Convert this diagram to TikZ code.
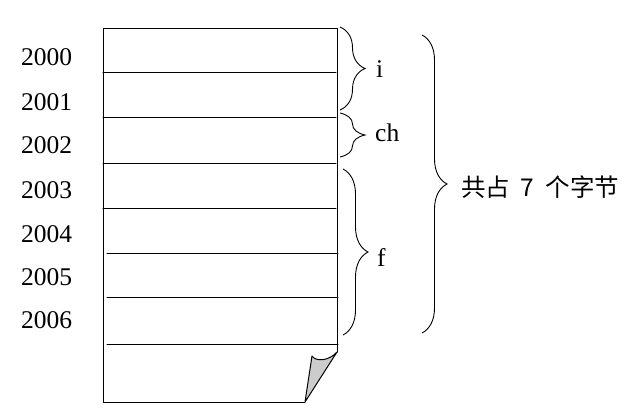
\documentclass[tikz,border=0pt]{standalone}
\usepackage{fontspec}
\setmainfont{Liberation Serif}
\newfontfamily\cjk{Noto Sans CJK SC}
\usetikzlibrary{decorations.pathreplacing}
\begin{document}
\begin{tikzpicture}[x=1pt,y=-1pt,
  lbl/.style={inner sep=0pt, anchor=base west, font=\fontsize{25.5}{26}\selectfont},
  cjklbl/.style={inner sep=0pt, anchor=base west, font=\cjk\fontsize{24.5}{25}\selectfont},
  br/.style={decorate, decoration={brace, amplitude=25pt}, line width=0.9pt},
  ln/.style={line width=1pt, line cap=round, line join=round},
  foldfill/.style={fill=gray!40, draw=black, line width=1pt, line join=round}]
\useasboundingbox (0,0) rectangle (632,418);
% corners of the sheet
\coordinate (tl) at (103,28);
\coordinate (tr) at (337,28);
\coordinate (rb) at (337,352);
\coordinate (bl) at (103,402);
\coordinate (bf) at (305,402);
\coordinate (cf) at (312,356);
% sheet outline
\draw[ln] (rb) -- (tr) -- (tl) -- (bl) -- (bf);
% folded corner
\draw[foldfill] (bf) -- (cf) .. controls (316,362) and (329,361) .. (rb) -- cycle;
% row separators
\foreach \y in {72,117,163,208} {\draw[ln] (103,\y) -- (336,\y);}
\foreach \y in {253,297,344} {\draw[ln] (107,\y) -- (338,\y);}
% addresses
\node[lbl] (a0) at (21,65) {2000};
\node[lbl] (a1) at (21,110) {2001};
\node[lbl] (a2) at (21,153) {2002};
\node[lbl] (a3) at (21,198) {2003};
\node[lbl] (a4) at (21,242) {2004};
\node[lbl] (a5) at (21,285) {2005};
\node[lbl] (a6) at (21,328) {2006};
% small braces
\coordinate (bi1) at (340,27);  \coordinate (bi2) at (340,110);
\coordinate (bc1) at (340,113); \coordinate (bc2) at (340,157);
\coordinate (bf1) at (343,169); \coordinate (bf2) at (343,335);
\draw[br] (bi1) -- (bi2);
\draw[br] (bc1) -- (bc2);
\draw[br] (bf1) -- (bf2);
\node[lbl] (vi) at (376,77) {i};
\node[lbl] (vch) at (375,141) {ch};
\node[lbl] (vf) at (377,266) {f};
% big brace
\coordinate (bb1) at (422,35); \coordinate (bb2) at (422,333);
\draw[br] (bb1) -- (bb2);
\node[cjklbl] (tot) at (461,196) {共占\hspace{10pt}7\hspace{12pt}个字节};
\end{tikzpicture}
\end{document}
